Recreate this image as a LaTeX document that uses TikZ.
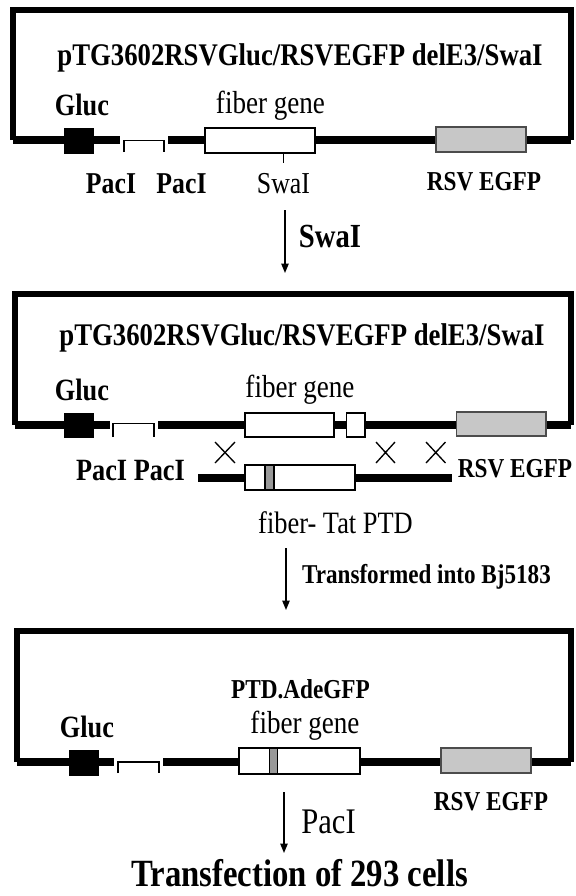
\documentclass[tikz,border=0pt]{standalone}
\usepackage{fontspec}
\setmainfont{Liberation Serif}[FakeStretch=0.85]
\usetikzlibrary{arrows.meta}
\newcommand\fsz[1]{\fontsize{#1}{#1}\selectfont}
\begin{document}
\begin{tikzpicture}[x=0.75pt,y=-0.75pt,
  frame/.style={line width=4.7pt, line join=miter},
  backbone/.style={line width=5.5pt},
  genebox/.style={draw=black, fill=white, line width=1.2pt},
  gluc/.style={draw=black, fill=black, line width=0.5pt},
  rsvbox/.style={draw=black!70, fill=black!22, line width=1.2pt},
  ptd/.style={draw=black, fill=black!40, line width=1.2pt},
  site/.style={line width=0.9pt},
  cross/.style={line width=1pt},
  flow/.style={line width=1pt, -{Triangle[length=7pt,width=5.5pt]}},
  lbl/.style={inner sep=0pt, anchor=base},
]
\useasboundingbox (0,0) rectangle (575,896);

% ---------------- Panel 1 ----------------
\draw[frame] (13,140) -- (13,10) -- (571,10) -- (571,140);
\draw[backbone] (13,140) -- (120,140);
\draw[backbone] (168,140) -- (571,140);
\draw[gluc] (64,128) rectangle (93.5,153);
\draw[site] (124,152) -- (124,140.5) -- (164,140.5) -- (164,152);
\draw[genebox] (205,128) rectangle (315,153);
\draw[site] (283.5,153) -- (283.5,163);
\draw[rsvbox] (436,127) rectangle (526,152);

\node[lbl, font=\bfseries\fsz{23.6pt}] (t1) at (300,65) {pTG3602RSVGluc/RSVEGFP delE3/SwaI};
\node[lbl, font=\bfseries\fsz{23.2pt}] (g1) at (82,115) {Gluc};
\node[lbl, font=\fsz{23.9pt}] (f1) at (270.5,113) {fiber gene};
\node[lbl, font=\bfseries\fsz{22.7pt}] (p1a) at (111,193) {PacI};
\node[lbl, font=\bfseries\fsz{22.7pt}] (p1b) at (181.5,193) {PacI};
\node[lbl, font=\fsz{22.8pt}] (s1) at (283.5,193) {SwaI};
\node[lbl, font=\bfseries\fsz{20.5pt}] (r1) at (484,190) {RSV EGFP};

\coordinate (a1s) at (285,210);
\coordinate (a1e) at (285,273);
\draw[flow] (a1s) -- (a1e);
\node[lbl, font=\bfseries\fsz{25.3pt}] (sw) at (330,247) {SwaI};

% ---------------- Panel 2 ----------------
\draw[frame] (15,425) -- (15,294) -- (571,294) -- (571,425);
\draw[backbone] (15,425) -- (110,425);
\draw[backbone] (158,425) -- (571,425);
\draw[gluc] (64,413) rectangle (93.5,437);
\draw[site] (113,437) -- (113,423.5) -- (154,423.5) -- (154,437);
\draw[genebox] (245,413) rectangle (334,437);
\draw[genebox] (346.5,413) rectangle (365,437);
\draw[rsvbox] (456.5,412) rectangle (546,436);

\draw[cross] (215,442) -- (235,463) (215,463) -- (235,442);
\draw[cross] (376,442) -- (395,463) (376,463) -- (395,442);
\draw[cross] (426,442) -- (445.5,463) (426,463) -- (445.5,442);

\draw[backbone] (198,478) -- (452,478);
\draw[genebox] (245,465) rectangle (355,490);
\draw[ptd] (265,465) rectangle (274,490);

\node[lbl, font=\bfseries\fsz{23.6pt}] (t2) at (302,345) {pTG3602RSVGluc/RSVEGFP delE3/SwaI};
\node[lbl, font=\bfseries\fsz{23.2pt}] (g2) at (82,400) {Gluc};
\node[lbl, font=\fsz{23.9pt}] (f2) at (300,397) {fiber gene};
\node[lbl, font=\bfseries\fsz{23.2pt}] (p2) at (130.5,480) {PacI PacI};
\node[lbl, font=\bfseries\fsz{20.5pt}] (r2) at (515,477) {RSV EGFP};
\node[lbl, font=\fsz{23.3pt}] (ft) at (335.5,533) {fiber- Tat PTD};

\coordinate (a2s) at (286,548);
\coordinate (a2e) at (286,610);
\draw[flow] (a2s) -- (a2e);
\node[lbl, font=\bfseries\fsz{20.4pt}] (tb) at (426.5,583) {Transformed into Bj5183};

% ---------------- Panel 3 ----------------
\draw[frame] (17,762) -- (17,631) -- (571,631) -- (571,762);
\draw[backbone] (17,762) -- (114,762);
\draw[backbone] (163,762) -- (571,762);
\draw[gluc] (69,750) rectangle (98,775);
\draw[site] (118,773) -- (118,762) -- (159,762) -- (159,773);
\draw[genebox] (239,748) rectangle (360,774);
\draw[ptd] (269.5,748) rectangle (277.6,774);
\draw[rsvbox] (441,748) rectangle (531,773);

\node[lbl, font=\bfseries\fsz{20.5pt}] (pa) at (300.5,698) {PTD.AdeGFP};
\node[lbl, font=\fsz{23.9pt}] (f3) at (305,733) {fiber gene};
\node[lbl, font=\bfseries\fsz{23.2pt}] (g3) at (87,737) {Gluc};
\node[lbl, font=\bfseries\fsz{20.5pt}] (r3) at (491,810) {RSV EGFP};

\coordinate (a3s) at (284,792);
\coordinate (a3e) at (284,853);
\draw[flow] (a3s) -- (a3e);
\node[lbl, font=\fsz{27pt}] (p3) at (328.5,833) {PacI};
\node[lbl, font=\bfseries\fsz{28.9pt}] (tr) at (299.5,886) {Transfection of 293 cells};
\end{tikzpicture}
\end{document}
